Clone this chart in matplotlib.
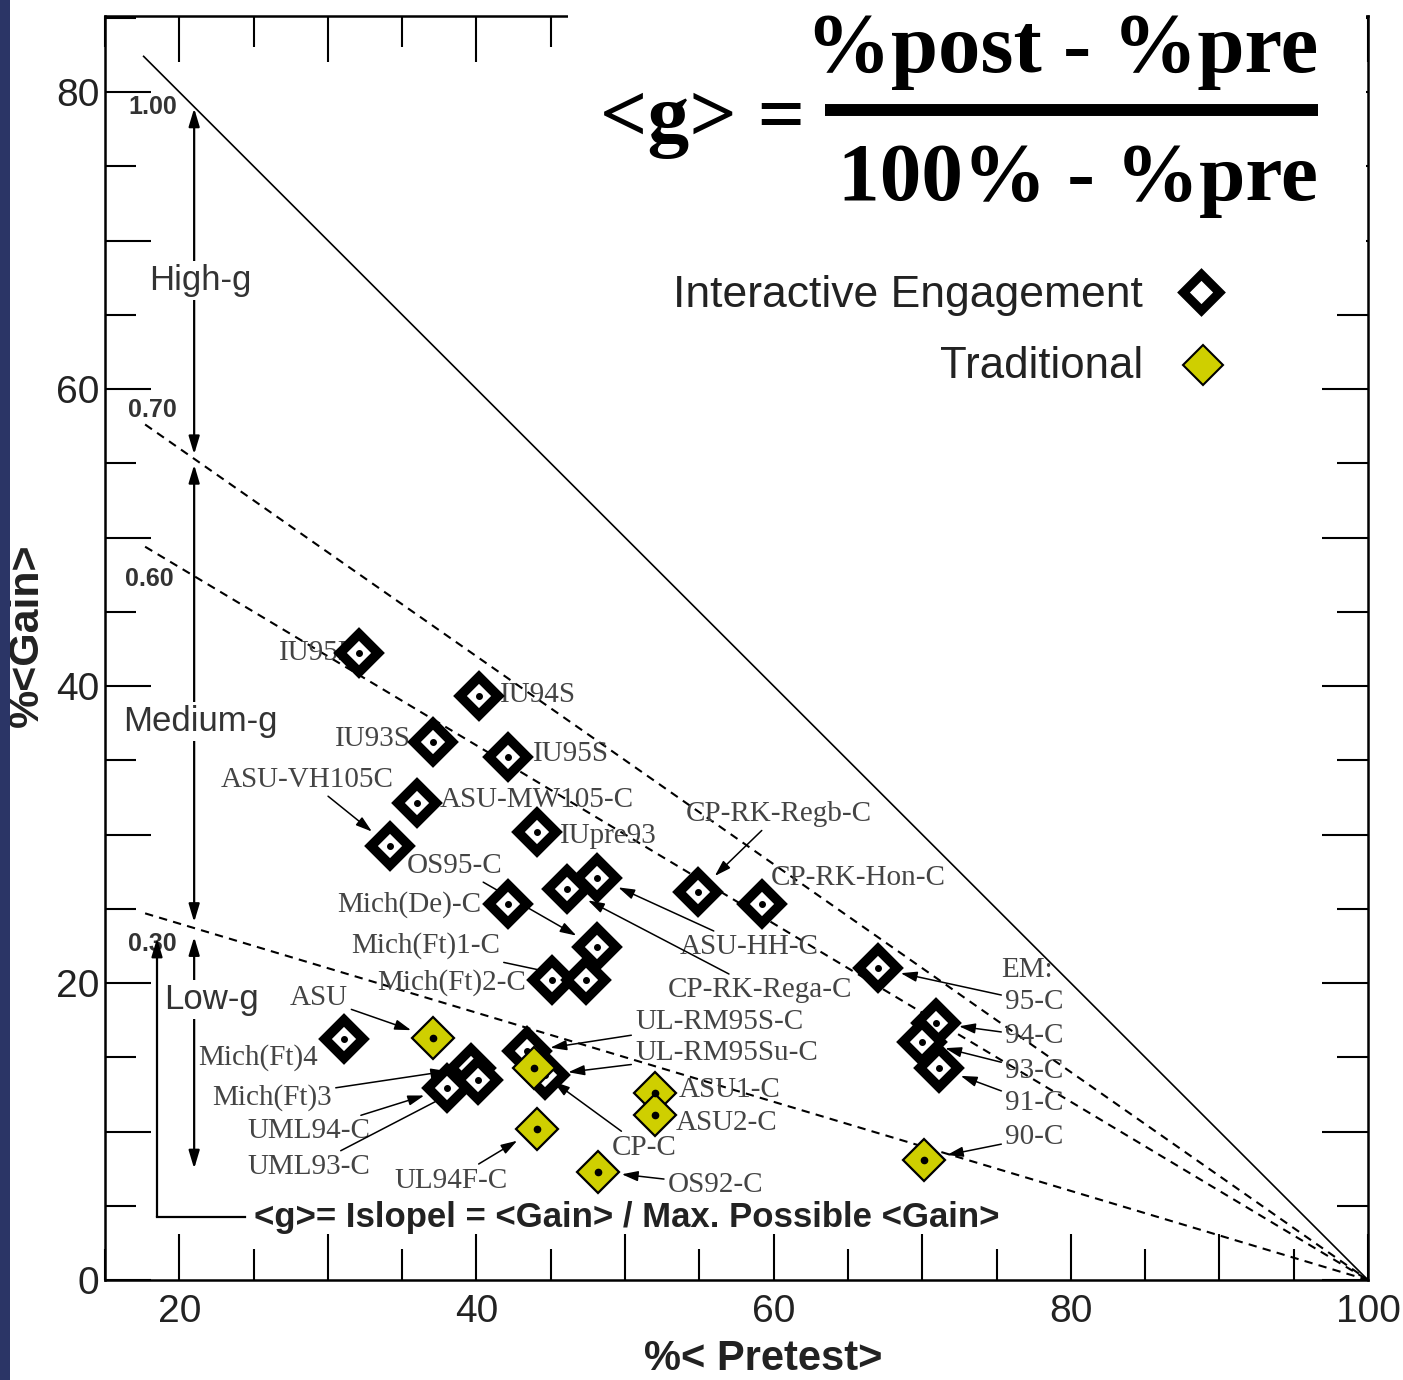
import matplotlib as mpl
mpl.use('Agg')
import matplotlib.pyplot as plt
from matplotlib.lines import Line2D
from matplotlib.patches import Rectangle
from matplotlib.ticker import MultipleLocator, FuncFormatter
import numpy as np

# interactive engagement courses: pretest % and gain %
ie_names = ['IU95F', 'IU94S', 'IU93S', 'IU95S', 'ASU-MW105-C', 'ASU-VH105C', 'IUpre93',
            'CP-RK-Rega-C', 'ASU-HH-C', 'Mich(De)-C', 'OS95-C', 'Mich(Ft)2-C', 'Mich(Ft)1-C',
            'CP-RK-Regb-C', 'CP-RK-Hon-C', '95-C', '94-C', '93-C', '91-C',
            'Mich(Ft)4', 'UML94-C', 'Mich(Ft)3', 'UML93-C', 'UL-RM95S-C', 'UL-RM95Su-C']
ie_pre = [32.1, 40.2, 37.1, 42.1, 36.0, 34.2, 44.1,
          46.1, 48.1, 42.1, 48.1, 45.1, 47.4,
          54.9, 59.2, 67.0, 70.9, 70.0, 71.1,
          31.1, 38.0, 39.6, 40.1, 43.4, 44.6]
ie_gain = [42.2, 39.3, 36.2, 35.2, 32.1, 29.2, 30.2,
           26.3, 27.1, 25.3, 22.4, 20.2, 20.2,
           26.1, 25.3, 21.0, 17.3, 16.0, 14.3,
           16.2, 12.9, 14.3, 13.5, 15.4, 13.8]

# traditional courses
trad_names = ['ASU', 'CP-C', 'UL94F-C', 'ASU1-C', 'ASU2-C', 'OS92-C', '90-C']
trad_pre = [37.1, 43.9, 44.1, 52.0, 52.0, 48.2, 70.1]
trad_gain = [16.3, 14.3, 10.2, 12.6, 11.1, 7.3, 8.1]

# constant <g> reference lines
g_dashed = [0.7, 0.6, 0.3]
g_text = ['1.00', '0.70', '0.60', '0.30']

# label placement: x, y, alignment, leader arrow
label_layout = {
    'IU95F': (31.8, 42.2, 'right', False),
    'IU94S': (41.6, 39.4, 'left', False),
    'IU93S': (35.6, 36.4, 'right', False),
    'IU95S': (43.8, 35.4, 'left', False),
    'ASU-VH105C': (22.8, 33.7, 'left', True),
    'ASU-MW105-C': (37.5, 32.3, 'left', False),
    'IUpre93': (45.6, 29.9, 'left', False),
    'OS95-C': (35.3, 27.9, 'left', True),
    'Mich(De)-C': (30.6, 25.3, 'left', False),
    'Mich(Ft)1-C': (31.6, 22.5, 'left', True),
    'Mich(Ft)2-C': (33.3, 20.0, 'left', False),
    'CP-RK-Regb-C': (54.1, 31.4, 'left', True),
    'CP-RK-Hon-C': (59.8, 27.1, 'left', False),
    'ASU-HH-C': (53.7, 22.4, 'left', True),
    'CP-RK-Rega-C': (52.9, 19.5, 'left', True),
    '95-C': (75.6, 18.7, 'left', True),
    '94-C': (75.6, 16.4, 'left', True),
    '93-C': (75.6, 14.1, 'left', True),
    '91-C': (75.6, 11.9, 'left', True),
    '90-C': (75.6, 9.6, 'left', True),
    'UL-RM95S-C': (50.7, 17.4, 'left', True),
    'UL-RM95Su-C': (50.7, 15.3, 'left', True),
    'ASU': (27.4, 19.0, 'left', True),
    'Mich(Ft)4': (21.3, 15.0, 'left', False),
    'Mich(Ft)3': (22.2, 12.3, 'left', True),
    'UML94-C': (24.6, 10.0, 'left', True),
    'UML93-C': (24.6, 7.6, 'left', True),
    'UL94F-C': (34.5, 6.7, 'left', True),
    'ASU1-C': (53.6, 12.8, 'left', False),
    'ASU2-C': (53.4, 10.6, 'left', False),
    'CP-C': (49.1, 8.9, 'left', True),
    'OS92-C': (52.9, 6.4, 'left', True),
}

W, H = 1403, 1380
sans = 'Liberation Sans'
serif = 'Liberation Serif'
yellow = '#cfcf00'

fig = plt.figure(figsize=(W / 100, H / 100), dpi=100)
ax = fig.add_axes([105 / W, 1 - 1280 / H, 1263 / W, 1264 / H])
ax.set_xlim(15, 100)
ax.set_ylim(0, 1264 / 14.85)

# reference lines
xs = np.array([17.6, 100])
ax.plot(xs, 100 - xs, color='black', lw=1.2, zorder=2)
for g in g_dashed:
    xs = np.array([17.7, 100])
    ax.plot(xs, g * (100 - xs), color='black', lw=1.5, ls=(0, (4, 3)), zorder=2)

# data markers
ax.plot(ie_pre, ie_gain, ls='none', marker='D', ms=19.5, mfc='white', mec='black', mew=7, zorder=4)
ax.plot(ie_pre, ie_gain, ls='none', marker='o', ms=4, color='black', zorder=4.1)
ax.plot(trad_pre, trad_gain, ls='none', marker='D', ms=21, mfc=yellow, mec='black', mew=1.6, zorder=5)
ax.plot(trad_pre, trad_gain, ls='none', marker='o', ms=4.5, color='black', zorder=5.1)

# course labels
pts = dict(zip(ie_names, zip(ie_pre, ie_gain)))
pts.update(dict(zip(trad_names, zip(trad_pre, trad_gain))))
arrow_kw = dict(arrowstyle='-|>,head_length=0.7,head_width=0.22', color='black', lw=1.1,
                mutation_scale=14, shrinkA=1, shrinkB=17)
for name, (lx, ly, ha, arrow) in label_layout.items():
    if arrow:
        ax.annotate(name, xy=pts[name], xytext=(lx, ly), ha=ha, va='center',
                    fontsize=21, family=serif, color='#444444', arrowprops=arrow_kw, zorder=3)
    else:
        ax.text(lx, ly, name, ha=ha, va='center', fontsize=21, family=serif, color='#444444', zorder=3)
ax.text(75.3, 20.9, 'EM:', ha='left', va='center', fontsize=21, family=serif, color='#444444')

# g values along the left edge
for txt, (tx, ty) in zip(g_text, [(18.2, 79.0), (18.2, 58.6), (18.0, 47.2), (18.2, 22.6)]):
    ax.text(tx, ty, txt, ha='center', va='center', fontsize=18, fontweight='bold', family=sans, color='#333333')

# high / medium / low ranges
range_kw = dict(arrowstyle='<|-|>,head_length=0.6,head_width=0.18', color='black', lw=1.6,
                mutation_scale=18, shrinkA=0, shrinkB=0)
for top, bot in [(78.9, 55.6), (54.9, 24.1), (23.1, 7.5)]:
    ax.annotate('', xy=(21.0, top), xytext=(21.0, bot), arrowprops=range_kw, zorder=3)
box = dict(facecolor='white', edgecolor='none', pad=2)
ax.text(21.4, 67.3, 'High-g', ha='center', va='center', fontsize=25, family=sans, color='#333333', bbox=box, zorder=3.5)
ax.text(21.4, 37.6, 'Medium-g', ha='center', va='center', fontsize=25, family=sans, color='#333333', bbox=box, zorder=3.5)
ax.text(22.2, 18.9, 'Low-g', ha='center', va='center', fontsize=25, family=sans, color='#333333', bbox=box, zorder=3.5)

# slope pointer
pointer_kw = dict(range_kw, arrowstyle='-|>,head_length=0.6,head_width=0.18')
ax.annotate('', xy=(18.5, 23.0), xytext=(18.5, 4.25), arrowprops=pointer_kw, zorder=3)
ax.plot([18.5, 24.4], [4.25, 4.25], color='black', lw=1.6, zorder=3)
ax.text(25.0, 4.2, '<g>= Islopel = <Gain> / Max. Possible <Gain>', ha='left', va='center',
        fontsize=25, fontweight='bold', family=sans, color='#222222')

# axes styling
ax.xaxis.set_major_locator(MultipleLocator(10))
ax.xaxis.set_minor_locator(MultipleLocator(5))
ax.yaxis.set_major_locator(MultipleLocator(10))
ax.yaxis.set_minor_locator(MultipleLocator(5))
only20 = FuncFormatter(lambda v, p: '%d' % v if int(round(v)) % 20 == 0 else '')
ax.xaxis.set_major_formatter(only20)
ax.yaxis.set_major_formatter(only20)
ax.tick_params(which='both', direction='in', top=True, right=True, width=1.5, colors='black')
ax.tick_params(which='major', length=33)
ax.tick_params(which='minor', length=22)
ax.tick_params(axis='x', which='major', pad=10, labelsize=28, labelcolor='#222222')
ax.tick_params(axis='y', which='major', pad=4, labelsize=28, labelcolor='#222222')
for lab in ax.get_xticklabels() + ax.get_yticklabels():
    lab.set_family(sans)
for sp in ax.spines.values():
    sp.set_linewidth(1.8)

ax.set_xlabel('%< Pretest>', fontsize=30, fontweight='bold', family=sans, color='#222222')
ax.set_ylabel('%<Gain>', fontsize=31, fontweight='bold', family=sans, color='#222222')
ax.xaxis.set_label_coords(0.521, -0.047)
ax.yaxis.set_label_coords(-0.046, 0.51)

# white panel behind the formula, blue strip at the left edge
fig.add_artist(Rectangle((568 / W, 1 - 262 / H), (1366 - 568) / W, 262 / H, transform=fig.transFigure,
                         facecolor='white', edgecolor='none', zorder=5))
fig.add_artist(Rectangle((0, 0), 10 / W, 1, transform=fig.transFigure,
                         facecolor='#2b3566', edgecolor='none', zorder=10))

# formula
fig.text(1318 / W, 1 - 72 / H, '%post - %pre', ha='right', va='baseline', fontsize=61,
         fontweight='bold', family=serif, zorder=6)
fig.text(1318 / W, 1 - 200 / H, '100% - %pre', ha='right', va='baseline', fontsize=60,
         fontweight='bold', family=serif, zorder=6)
fig.text(805 / W, 1 - 141 / H, '<g> =', ha='right', va='baseline', fontsize=60,
         fontweight='bold', family=serif, zorder=6)
fig.add_artist(Line2D([825 / W, 1318 / W], [1 - 110 / H] * 2, transform=fig.transFigure,
                      color='black', lw=8.6, solid_capstyle='butt', zorder=6))

# legend
fig.text(1143 / W, 1 - 307 / H, 'Interactive Engagement', ha='right', va='baseline', fontsize=32,
         family=sans, color='#222222', zorder=6)
fig.text(1143 / W, 1 - 378 / H, 'Traditional', ha='right', va='baseline', fontsize=31.5,
         family=sans, color='#222222', zorder=6)
fig.add_artist(Line2D([1201 / W], [1 - 292 / H], transform=fig.transFigure, marker='D', ms=18,
                      mfc='white', mec='black', mew=6.5, zorder=6))
fig.add_artist(Line2D([1203 / W], [1 - 365 / H], transform=fig.transFigure, marker='D', ms=20,
                      mfc=yellow, mec='black', mew=1.5, zorder=6))

fig.savefig('out.png', dpi=100)
